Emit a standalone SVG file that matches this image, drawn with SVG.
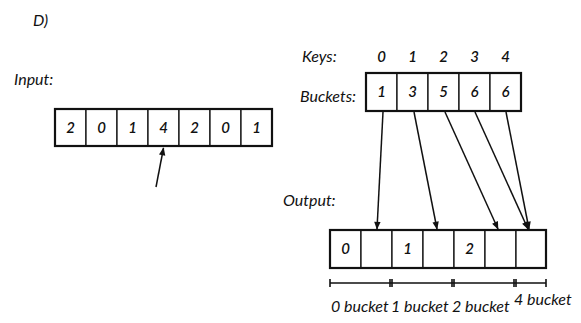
<svg xmlns="http://www.w3.org/2000/svg" width="581" height="323" viewBox="0 0 581 323">
<defs>
<marker id="ah" viewBox="0 0 10 10" refX="9" refY="5" markerWidth="9" markerHeight="8" orient="auto" markerUnits="userSpaceOnUse">
<path d="M0,1 L10,5 L0,9 Z" fill="#111"/>
</marker>
<style>
text{font-family:"Lato","DejaVu Sans",sans-serif;fill:#111}
.lbl{font-size:16px;font-style:italic}
.num{font-size:15px;text-anchor:middle;font-style:italic;font-weight:600}
.cell{fill:#fff;stroke:#111;stroke-width:1.3}
.frame{fill:none;stroke:#111;stroke-width:2.2}
.con{stroke:#111;stroke-width:1.5;fill:none;marker-end:url(#ah)}
.br{stroke:#111;stroke-width:1.6;fill:none}
</style>
</defs>
<rect width="581" height="323" fill="#fff"/>
<text class="lbl" x="33" y="26">D)</text>
<text class="lbl" x="14" y="85">Input:</text>
<g id="input">
<rect class="cell" x="55" y="109" width="31" height="37"/>
<rect class="cell" x="86" y="109" width="31" height="37"/>
<rect class="cell" x="117" y="109" width="31" height="37"/>
<rect class="cell" x="148" y="109" width="31" height="37"/>
<rect class="cell" x="179" y="109" width="31" height="37"/>
<rect class="cell" x="210" y="109" width="31" height="37"/>
<rect class="cell" x="241" y="109" width="31" height="37"/>
<rect class="frame" x="55" y="109" width="217" height="37"/>
<text class="num" x="70.5" y="133">2</text>
<text class="num" x="101.5" y="133">0</text>
<text class="num" x="132.5" y="133">1</text>
<text class="num" x="163.5" y="133">4</text>
<text class="num" x="194.5" y="133">2</text>
<text class="num" x="225.5" y="133">0</text>
<text class="num" x="256.5" y="133">1</text>
</g>
<g id="keys">
<text class="lbl" x="302" y="62">Keys:</text>
<text class="num" x="381.5" y="62">0</text>
<text class="num" x="412.5" y="62">1</text>
<text class="num" x="443.5" y="62">2</text>
<text class="num" x="474.5" y="62">3</text>
<text class="num" x="505.5" y="62">4</text>
</g>
<g id="buckets">
<text class="lbl" x="300" y="102">Buckets:</text>
<rect class="cell" x="366" y="73" width="31" height="38"/>
<rect class="cell" x="397" y="73" width="31" height="38"/>
<rect class="cell" x="428" y="73" width="31" height="38"/>
<rect class="cell" x="459" y="73" width="31" height="38"/>
<rect class="cell" x="490" y="73" width="31" height="38"/>
<rect class="frame" x="366" y="73" width="155" height="38"/>
<text class="num" x="381.5" y="97">1</text>
<text class="num" x="412.5" y="97">3</text>
<text class="num" x="443.5" y="97">5</text>
<text class="num" x="474.5" y="97">6</text>
<text class="num" x="505.5" y="97">6</text>
</g>
<text class="lbl" x="283" y="206">Output:</text>
<g id="output">
<rect class="cell" x="330" y="230" width="31" height="38"/>
<rect class="cell" x="361" y="230" width="31" height="38"/>
<rect class="cell" x="392" y="230" width="31" height="38"/>
<rect class="cell" x="423" y="230" width="31" height="38"/>
<rect class="cell" x="454" y="230" width="31" height="38"/>
<rect class="cell" x="485" y="230" width="31" height="38"/>
<rect class="cell" x="516" y="230" width="30" height="38"/>
<rect class="frame" x="330" y="230" width="216" height="38"/>
<text class="num" x="345.5" y="254">0</text>
<text class="num" x="407.5" y="254">1</text>
<text class="num" x="469.5" y="254">2</text>
</g>
<g id="ranges">
<path class="br" d="M330,283 H546 M330,279 V287 M390,279 V287 M392,279 V287 M452,279 V287 M454,279 V287 M514,279 V287 M516,279 V287 M546,279 V287"/>
<text class="lbl" x="331" y="312">0 bucket</text>
<text class="lbl" x="391" y="312">1 bucket</text>
<text class="lbl" x="452" y="312">2 bucket</text>
<text class="lbl" x="514" y="305">4 bucket</text>
</g>
<g id="connectors">
<line class="con" x1="156" y1="187" x2="163.5" y2="148"/>
<line class="con" x1="383" y1="112" x2="377" y2="229"/>
<line class="con" x1="414" y1="112" x2="437" y2="229"/>
<line class="con" x1="445" y1="112" x2="498" y2="229"/>
<line class="con" x1="475" y1="112" x2="528" y2="229"/>
<line class="con" x1="506" y1="112" x2="529" y2="229"/>
</g>
</svg>
